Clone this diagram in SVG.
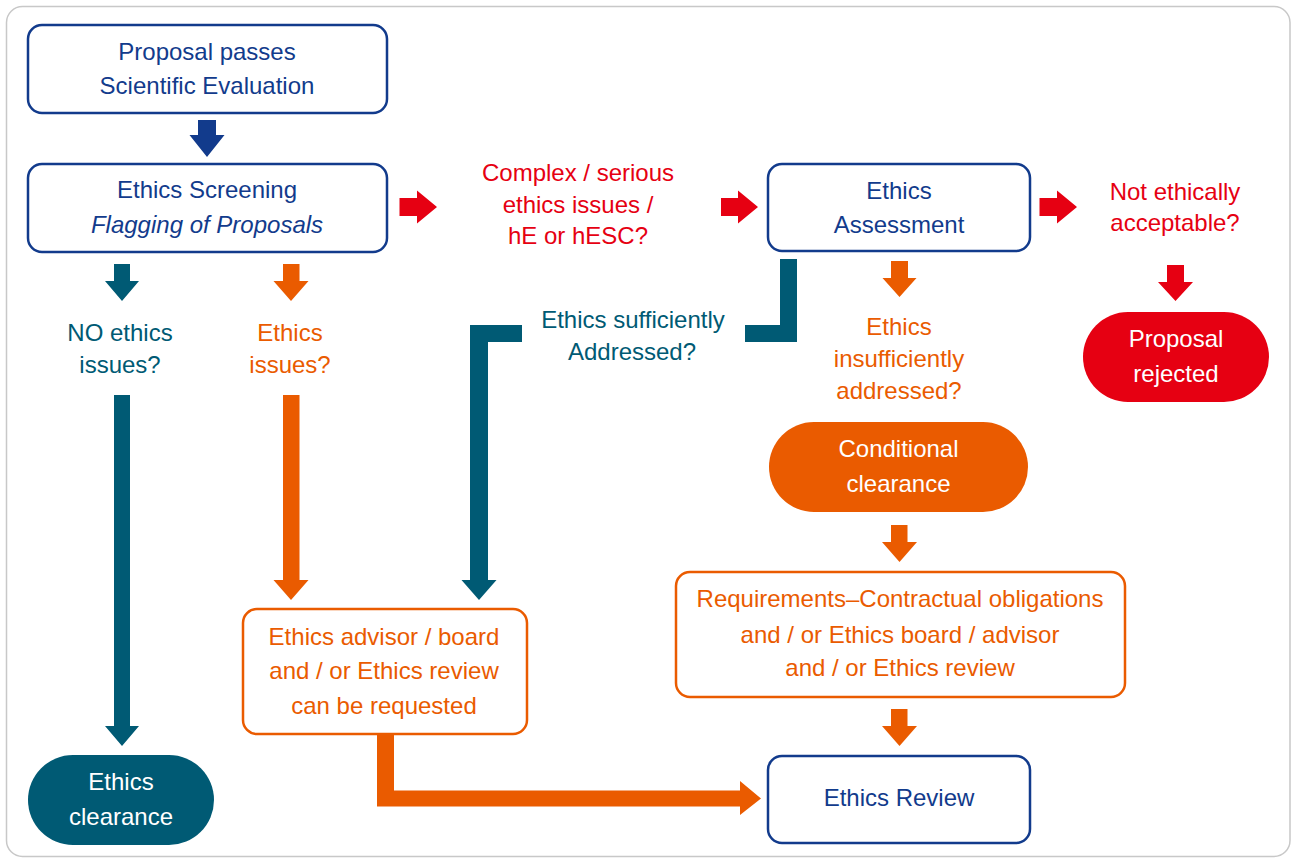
<svg xmlns="http://www.w3.org/2000/svg" width="1296" height="861" viewBox="0 0 1296 861">
<style>
text{font-family:"Liberation Sans",Arial,sans-serif;font-size:24px;text-anchor:middle}
.nv{fill:#123b8c}.tl{fill:#005a74}.or{fill:#ea5b00}.rd{fill:#e60012}.wh{fill:#ffffff}
.bn{fill:#fff;stroke:#123b8c;stroke-width:2.5}
.bo{fill:#fff;stroke:#ea5b00;stroke-width:2.5}
</style>
<rect x="6.5" y="6.5" width="1283.5" height="850" rx="16" fill="#fff" stroke="#c8c8c8" stroke-width="1.5"/>
<g id="connectors">
<polygon class="nv" points="198,120 216,120 216,135 224.5,135 207,157 189.5,135 198,135"/>
<polygon class="rd" points="399.5,198 417,198 417,190.5 437,207 417,223.5 417,216 399.5,216"/>
<polygon class="rd" points="721,198 738,198 738,190.5 758,207 738,223.5 738,216 721,216"/>
<polygon class="rd" points="1039.5,198 1057,198 1057,190.5 1077,207 1057,223.5 1057,216 1039.5,216"/>
<polygon class="rd" points="1167,265 1184,265 1184,282 1193,282 1175.5,301 1158,282 1167,282"/>
<polygon class="tl" points="114,264 130,264 130,281 139,281 122,301 105,281 114,281"/>
<polygon class="or" points="283,264 299.5,264 299.5,281 308.5,281 291,301 273.5,281 283,281"/>
<polygon class="tl" points="114,395 130,395 130,726 139,726 122,746 105,726 114,726"/>
<polygon class="or" points="283,395 299.5,395 299.5,580 308.5,580 291,600 273.5,580 283,580"/>
<polygon class="tl" points="780,259 797,259 797,342 745,342 745,325 780,325"/>
<polygon class="tl" points="470,325 522,325 522,342 488,342 488,580 496.5,580 479,600 461.5,580 470,580"/>
<polygon class="or" points="891,261 908,261 908,278 916.5,278 899.5,297 882.5,278 891,278"/>
<polygon class="or" points="891,525 907.5,525 907.5,542 917,542 899.5,562 882,542 891,542"/>
<polygon class="or" points="891,709 907.5,709 907.5,726 917,726 899.5,746 882,726 891,726"/>
<polygon class="or" points="377,734 394,734 394,790.5 740,790.5 740,781 761,798.5 740,815 740,806.5 377,806.5"/>
</g>
<g id="proposal">
<rect class="bn" x="28" y="25" width="359" height="88" rx="14"/>
<text class="nv" x="207" y="60">Proposal passes</text>
<text class="nv" x="207" y="94">Scientific Evaluation</text>
</g>
<g id="screening">
<rect class="bn" x="28" y="164" width="359" height="88" rx="14"/>
<text class="nv" x="207" y="198">Ethics Screening</text>
<text class="nv" x="207" y="233" font-style="italic">Flagging of Proposals</text>
</g>
<g id="complex">
<text class="rd" x="578" y="181">Complex / serious</text>
<text class="rd" x="578" y="213">ethics issues /</text>
<text class="rd" x="578" y="244">hE or hESC?</text>
</g>
<g id="assessment">
<rect class="bn" x="768" y="164" width="262" height="87" rx="14"/>
<text class="nv" x="899" y="199">Ethics</text>
<text class="nv" x="899" y="233">Assessment</text>
</g>
<g id="not-acceptable">
<text class="rd" x="1175" y="200">Not ethically</text>
<text class="rd" x="1175" y="231">acceptable?</text>
</g>
<g id="rejected">
<rect class="rd" x="1083" y="312" width="186" height="90" rx="45"/>
<text class="wh" x="1176" y="347">Proposal</text>
<text class="wh" x="1176" y="382">rejected</text>
</g>
<g id="no-issues">
<text class="tl" x="120" y="341">NO ethics</text>
<text class="tl" x="120" y="373">issues?</text>
</g>
<g id="issues">
<text class="or" x="290" y="341">Ethics</text>
<text class="or" x="290" y="373">issues?</text>
</g>
<g id="sufficiently">
<text class="tl" x="633" y="328">Ethics sufficiently</text>
<text class="tl" x="632" y="360">Addressed?</text>
</g>
<g id="insufficiently">
<text class="or" x="899" y="335">Ethics</text>
<text class="or" x="899" y="367">insufficiently</text>
<text class="or" x="899" y="399">addressed?</text>
</g>
<g id="conditional">
<rect class="or" x="769" y="422" width="259" height="90" rx="45"/>
<text class="wh" x="898.5" y="457">Conditional</text>
<text class="wh" x="898.5" y="492">clearance</text>
</g>
<g id="requirements">
<rect class="bo" x="676" y="572" width="449" height="125" rx="14"/>
<text class="or" x="900" y="607">Requirements–Contractual obligations</text>
<text class="or" x="900" y="643">and / or Ethics board / advisor</text>
<text class="or" x="900" y="676">and / or Ethics review</text>
</g>
<g id="advisor">
<rect class="bo" x="243" y="609" width="284" height="125" rx="14"/>
<text class="or" x="384" y="645">Ethics advisor / board</text>
<text class="or" x="384" y="679">and / or Ethics review</text>
<text class="or" x="384" y="714">can be requested</text>
</g>
<g id="clearance">
<rect class="tl" x="28" y="755" width="186" height="90" rx="45"/>
<text class="wh" x="121" y="790">Ethics</text>
<text class="wh" x="121" y="825">clearance</text>
</g>
<g id="review">
<rect class="bn" x="768" y="756" width="262" height="87" rx="14"/>
<text class="nv" x="899" y="806">Ethics Review</text>
</g>
</svg>
